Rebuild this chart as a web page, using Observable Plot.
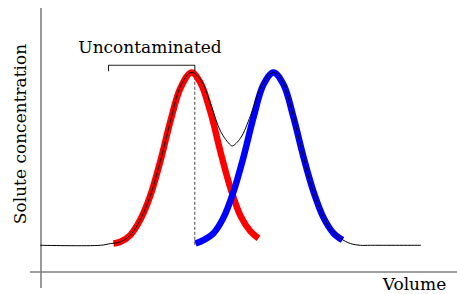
<!DOCTYPE html>
<html>
<head>
<meta charset="utf-8">
<script src="https://cdn.jsdelivr.net/npm/d3@7"></script>
<script src="https://cdn.jsdelivr.net/npm/@observablehq/plot@0.6"></script>
<style>
  html, body { margin: 0; padding: 0; background: #fff; }
  #chart { width: 457px; height: 294px; }
</style>
</head>
<body>
<div id="chart"></div>
<script>
// Peak 1 (red): volume samples and solute concentration
const redVolume = [7.3, 8, 9, 10, 11, 12, 13, 14, 15.1, 16, 17, 18, 19, 20, 21, 21.8];
const redConc   = [0.01, 0.02, 0.06, 0.15, 0.29, 0.49, 0.72, 0.91, 1.0, 0.94, 0.77, 0.54, 0.33, 0.17, 0.08, 0.04];

// Peak 2 (blue)
const blueVolume = [15.5, 16.3, 17.3, 18.3, 19.3, 20.3, 21.3, 22.3, 23.3, 24.3, 25.3, 26.3, 27.3, 28.3, 29.3, 30.2];
const blueConc   = [0.01, 0.03, 0.07, 0.16, 0.31, 0.51, 0.74, 0.93, 1.0, 0.93, 0.74, 0.51, 0.31, 0.16, 0.07, 0.03];

// Total measured concentration (thin black line)
const sumVolume = [0, 6, 7, 8, 9, 10, 11, 12, 13, 14, 15.05, 16, 17, 18, 19, 19.2, 20, 21, 22, 23.2, 24, 25, 26, 27, 28, 29, 30, 31, 32, 33, 38];
const sumConc   = [0, 0, 0.01, 0.02, 0.06, 0.15, 0.29, 0.49, 0.72, 0.92, 1.0, 0.96, 0.82, 0.66, 0.58, 0.575, 0.62, 0.75, 0.91, 1.0, 0.97, 0.81, 0.58, 0.36, 0.20, 0.09, 0.04, 0.01, 0, 0, 0];

// Labels
const bracketLabel = "Uncontaminated";
const xLabel = "Volume";
const yLabel = "Solute concentration";
const cutVolume = 15.43;   // end of uncontaminated fraction
const bracketStart = 6.8;

const red = redVolume.map((v, i) => ({v, c: redConc[i]}));
const blue = blueVolume.map((v, i) => ({v, c: blueConc[i]}));
const sum = sumVolume.map((v, i) => ({v, c: sumConc[i]}));

const font = "'DejaVu Serif', 'Liberation Serif', serif";

const chart = Plot.plot({
  width: 457,
  height: 294,
  margin: 0,
  style: {fontFamily: font, background: "#fff", overflow: "visible"},
  x: {domain: [-4, 41.7], range: [0, 457], axis: null},
  y: {domain: [-0.25, 1.37], range: [288, 8], axis: null},
  marks: [
    // axes
    Plot.ruleX([0.05], {y1: -0.25, y2: 1.37, stroke: "#555", strokeWidth: 1.2}),
    Plot.ruleY([-0.1545], {x1: -1, x2: 41.7, stroke: "#808080", strokeWidth: 1.4}),
    // dashed cut line
    Plot.ruleX([cutVolume], {y1: 0, y2: 1, stroke: "#444", strokeWidth: 1, strokeDasharray: "3,2"}),
    // peaks
    Plot.line(red, {x: "v", y: "c", stroke: "#ff0000", strokeWidth: 6.5, curve: "catmull-rom", strokeLinecap: "butt", strokeLinejoin: "round"}),
    Plot.line(blue, {x: "v", y: "c", stroke: "#0000ff", strokeWidth: 6.5, curve: "catmull-rom", strokeLinecap: "butt", strokeLinejoin: "round"}),
    // total
    Plot.line(sum, {x: "v", y: "c", stroke: "#000", strokeWidth: 1, curve: "catmull-rom"}),
    // bracket
    Plot.line([
      {v: bracketStart, c: 1.01}, {v: bracketStart, c: 1.042},
      {v: cutVolume, c: 1.042}, {v: cutVolume, c: 1.01}
    ], {x: "v", y: "c", stroke: "#222", strokeWidth: 1.1}),
    Plot.text([bracketLabel], {x: 10.95, y: 1.11, text: d => d, fontSize: 17, lineAnchor: "bottom", fill: "#000"}),
    Plot.text([xLabel], {x: 37.4, y: -0.258, text: d => d, fontSize: 17, lineAnchor: "bottom", fill: "#000"}),
    Plot.text([yLabel], {x: -2.0, y: 0.644, text: d => d, fontSize: 17, rotate: -90, lineAnchor: "middle", fill: "#000"})
  ]
});
document.getElementById("chart").appendChild(chart);
</script>
</body>
</html>
